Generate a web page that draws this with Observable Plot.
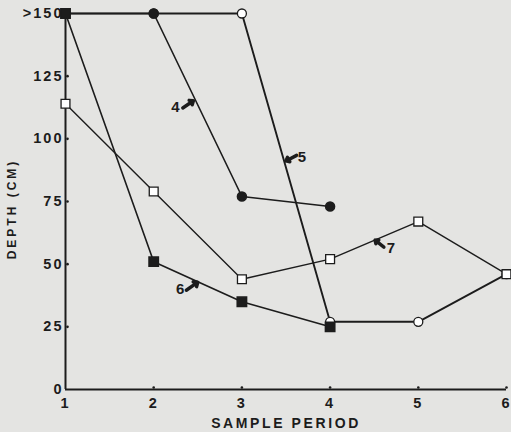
<!DOCTYPE html>
<html>
<head>
<meta charset="utf-8">
<script src="https://cdn.jsdelivr.net/npm/d3@7"></script>
<script src="https://cdn.jsdelivr.net/npm/@observablehq/plot@0.6"></script>
<style>
  html, body { margin: 0; padding: 0; background: #e4e4e2; }
  #chart svg { display: block; }
</style>
</head>
<body>
<div id="chart"></div>
<script>
const periods = [1, 2, 3, 4, 5, 6];
const depth4 = [150, 150, 77, 73, null, null];
const depth5 = [150, 150, 150, 27, 27, 46];
const depth6 = [150, 51, 35, 25, null, null];
const depth7 = [114, 79, 44, 52, 67, 46];
const yTicks = [0, 25, 50, 75, 100, 125, 150];

// series labels with pointer arrows (data units)
const labels = [
  {name: "4", x: 2.247, y: 112.5, x1: 2.33, y1: 112.3, x2: 2.45, y2: 115.2},
  {name: "5", x: 3.68, y: 92.5, x1: 3.62, y1: 93.4, x2: 3.50, y2: 91.2},
  {name: "6", x: 2.30, y: 40.0, x1: 2.37, y1: 39.6, x2: 2.50, y2: 42.8},
  {name: "7", x: 4.69, y: 56.2, x1: 4.61, y1: 56.8, x2: 4.51, y2: 59.6}
];

function rows(vals) {
  return periods.map((p, i) => ({x: p, y: vals[i]})).filter(d => d.y != null);
}
const s4 = rows(depth4), s5 = rows(depth5), s6 = rows(depth6), s7 = rows(depth7);

const ink = "#1c1c1c";
const bg = "#e4e4e2";

const chart = Plot.plot({
  width: 511,
  height: 432,
  marginLeft: 65,
  marginRight: 5,
  marginTop: 13,
  marginBottom: 43,
  style: {background: bg, fontFamily: "Liberation Sans, Arial, sans-serif", fontSize: "14px", fontWeight: "bold", color: ink},
  x: {type: "linear", domain: [1, 6]},
  y: {type: "linear", domain: [0, 150]},
  marks: [
    Plot.axisY({ticks: yTicks, tickSize: 0, tickPadding: 2,
      tickFormat: d => d === 150 ? ">150" : String(d), label: null}),
    Plot.axisX({ticks: periods, tickSize: 0, tickPadding: 8,
      tickFormat: d => String(d), label: null}),
    Plot.dot(periods.slice(1), {x: d => d, y: 0, r: 1.3, fill: ink, dy: -2}),
    Plot.dot(yTicks.slice(1, -1), {x: 1, y: d => d, r: 1.3, fill: ink, dx: 2}),
    Plot.ruleX([1], {stroke: ink, strokeWidth: 2}),
    Plot.ruleY([0], {stroke: ink, strokeWidth: 2}),
    Plot.line(s5, {x: "x", y: "y", stroke: ink, strokeWidth: 1.9}),
    Plot.line(s4, {x: "x", y: "y", stroke: ink, strokeWidth: 1.6}),
    Plot.line(s7, {x: "x", y: "y", stroke: ink, strokeWidth: 1.4}),
    Plot.line(s6, {x: "x", y: "y", stroke: ink, strokeWidth: 1.6}),
    Plot.dot(s5, {x: "x", y: "y", r: 4.5, fill: "white", stroke: ink, strokeWidth: 1.3}),
    Plot.dot(s4, {x: "x", y: "y", r: 4.5, fill: ink, stroke: ink}),
    Plot.dot(s7, {x: "x", y: "y", symbol: "square", r: 5, fill: "white", stroke: ink, strokeWidth: 1.3}),
    Plot.dot(s6, {x: "x", y: "y", symbol: "square", r: 5.3, fill: ink, stroke: ink}),
    Plot.arrow(labels, {x1: "x1", y1: "y1", x2: "x2", y2: "y2", stroke: ink, strokeWidth: 3.4, headLength: 7, headAngle: 80}),
    Plot.text(labels, {x: "x", y: "y", text: "name", fontSize: 15, fontWeight: "bold", fill: ink}),
    Plot.text(["SAMPLE PERIOD"], {frameAnchor: "bottom", dy: 38, fontSize: 14, fontWeight: "bold", fill: ink,
      text: d => d}),
    Plot.text(["DEPTH (CM)"], {x: 1, y: 72, dx: -53, rotate: -90, fontSize: 12, fontWeight: "bold", fill: ink,
      text: d => d})
  ]
});
chart.querySelectorAll("text").forEach(t => {
  if (t.textContent === "SAMPLE PERIOD") t.setAttribute("letter-spacing", "2.6");
  if (t.textContent === "DEPTH (CM)") t.setAttribute("letter-spacing", "3");
});
chart.querySelectorAll('g[aria-label="y-axis tick label"], g[aria-label="x-axis tick label"]').forEach(g => {
  g.setAttribute("font-size", "14.5");
  g.setAttribute("letter-spacing", "2");
});
document.getElementById("chart").appendChild(chart);
</script>
</body>
</html>
